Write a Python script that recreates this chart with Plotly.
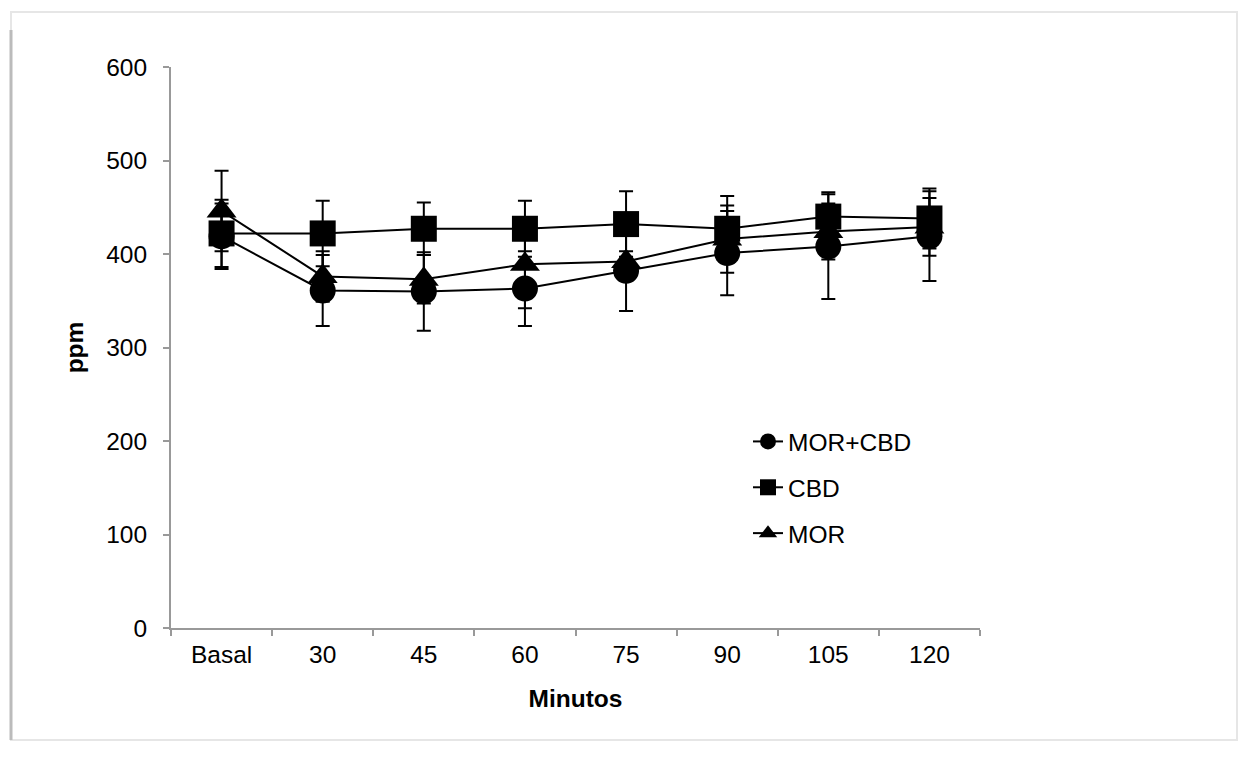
import plotly.graph_objects as go

categories = ["Basal", "30", "45", "60", "75", "90", "105", "120"]

mor_cbd = [419, 361, 360, 363, 382, 401, 408, 419]
mor_cbd_err = [35, 38, 42, 40, 43, 45, 56, 48]

cbd = [422, 422, 427, 427, 432, 427, 440, 438]
cbd_err = [36, 35, 28, 30, 35, 35, 26, 32]

mor = [446, 376, 373, 389, 392, 416, 424, 429]
mor_err = [43, 27, 26, 47, 11, 36, 30, 31]

series = [
    ("MOR+CBD", mor_cbd, mor_cbd_err, "circle"),
    ("CBD", cbd, cbd_err, "square"),
    ("MOR", mor, mor_err, "triangle-up"),
]

FONT = "Liberation Sans, Arial, sans-serif"
FS = 24.5

fig = go.Figure()
for i, (name, vals, errs, sym) in enumerate(series):
    fig.add_trace(go.Scatter(
        x=categories, y=vals, name=name, mode="lines+markers",
        line=dict(color="black", width=2),
        marker=dict(symbol=sym, size=26, color="black"),
        error_y=dict(type="data", array=errs, visible=True, color="black",
                     thickness=2, width=7),
        legendgroup=name,
    ))

X0, X1, Y0, Y1 = 171, 980, 67, 628
W, H = 1250, 758
def px(x):
    return (x - X0) / (X1 - X0)
def py(y):
    return (Y1 - y) / (Y1 - Y0)

fig.update_layout(
    width=W, height=H,
    margin=dict(l=X0, r=W - X1, t=Y0, b=H - Y1),
    paper_bgcolor="white", plot_bgcolor="white",
    font=dict(family=FONT, size=FS, color="black"),
    showlegend=True,
    legend=dict(x=px(748), y=py(419), xanchor="left", yanchor="top",
                traceorder="grouped", tracegroupgap=11,
                font=dict(size=FS), bgcolor="rgba(0,0,0,0)"),
    xaxis=dict(
        type="category", range=[-0.5, 7.5], tickson="boundaries",
        showline=True, linecolor="#999999", linewidth=2,
        ticks="outside", ticklen=6, tickcolor="#999999", tickwidth=2,
        ticklabelstandoff=4,
        showgrid=False, zeroline=False,
        title=dict(text="<b>Minutos</b>", font=dict(size=FS), standoff=22),
    ),
    yaxis=dict(
        range=[0, 600], dtick=100,
        showline=True, linecolor="#999999", linewidth=2,
        ticks="outside", ticklen=6, tickcolor="#999999", tickwidth=2,
        ticklabelstandoff=11,
        showgrid=False, zeroline=False,
        title=dict(text="<b>ppm</b>", font=dict(size=FS), standoff=16),
    ),
    shapes=[
        dict(type="rect", xref="paper", yref="paper",
             x0=px(11), x1=px(1237), y0=py(740), y1=py(12),
             line=dict(color="#e6e6e6", width=2), layer="below"),
        dict(type="line", xref="paper", yref="paper",
             x0=px(11), x1=px(11), y0=py(740), y1=py(30),
             line=dict(color="#bbbbbb", width=3), layer="below"),
    ],
)

fig.write_html("out.html")
